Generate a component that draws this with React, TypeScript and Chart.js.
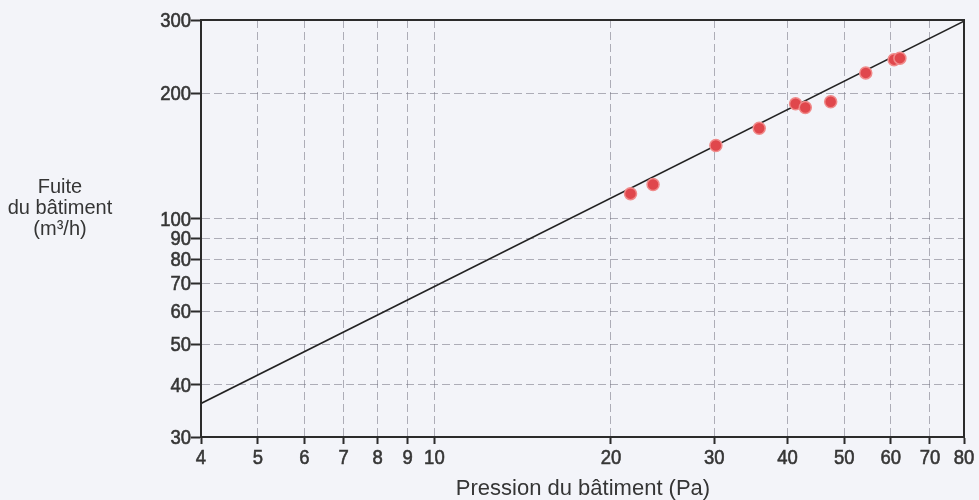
import React, { useEffect, useRef } from "react";
import { Chart, registerables } from "chart.js";

Chart.register(...registerables);

const xTicks = [4, 5, 6, 7, 8, 9, 10, 20, 30, 40, 50, 60, 70, 80];
const yTicks = [30, 40, 50, 60, 70, 80, 90, 100, 200, 300];
const pressure = [21.6, 23.6, 30.2, 35.8, 41.3, 42.9, 47.4, 54.4, 60.8, 62.2];
const leakage = [115, 121, 150, 165, 189, 185, 191, 224, 241, 243];
const fitPressure = [4, 80];
const fitLeakage = [36.1, 298];
const xTitle = "Pression du bâtiment (Pa)";
const yTitleLines = ["Fuite", "du bâtiment", "(m³/h)"];

const FONT = "'Liberation Sans', Arial, sans-serif";
const BG = "#f3f4f9";
const INK = "#2b2b2b";
const TEXT = "#353535";
const GRID = "rgba(115,115,130,0.55)";

function squeezed(ctx: any, text: string, x: number, y: number, sx: number) {
  ctx.save();
  ctx.translate(x, y);
  ctx.scale(sx, 1);
  ctx.strokeText(text, 0, 0);
  ctx.fillText(text, 0, 0);
  ctx.restore();
}

const decorPlugin = {
  id: "decor",
  beforeDraw(chart: any) {
    const { ctx, width, height } = chart;
    ctx.save();
    ctx.fillStyle = BG;
    ctx.fillRect(0, 0, width, height);
    ctx.restore();
  },
  afterDraw(chart: any) {
    const { ctx, chartArea, scales } = chart;
    ctx.save();
    ctx.strokeStyle = INK;
    ctx.lineWidth = 2;
    ctx.strokeRect(chartArea.left, chartArea.top, chartArea.right - chartArea.left, chartArea.bottom - chartArea.top);

    ctx.fillStyle = TEXT;
    ctx.strokeStyle = TEXT;
    ctx.lineWidth = 0.6;
    // tick labels
    ctx.font = `21px ${FONT}`;
    ctx.textBaseline = "middle";
    ctx.textAlign = "right";
    yTicks.forEach((v) => {
      const py = scales.y.getPixelForValue(v);
      squeezed(ctx, String(v), chartArea.left - 10, py + 1, 0.88);
    });
    ctx.textAlign = "center";
    xTicks.forEach((v) => {
      const px = scales.x.getPixelForValue(v);
      squeezed(ctx, String(v), px, chartArea.bottom + 21, 0.88);
    });

    // titles
    ctx.textBaseline = "alphabetic";
    ctx.textAlign = "center";
    ctx.font = `22px ${FONT}`;
    ctx.fillText(xTitle, 583, 495);
    ctx.font = `20px ${FONT}`;
    const baselines = [193, 214, 235];
    yTitleLines.forEach((t, i) => ctx.fillText(t, 60, baselines[i]));
    ctx.restore();
  },
};

export default function App() {
  const ref = useRef<HTMLCanvasElement | null>(null);
  useEffect(() => {
    if (!ref.current) return;
    const chart = new Chart(ref.current, {
      type: "scatter",
      data: {
        datasets: [
          {
            label: "fit",
            data: fitPressure.map((x, i) => ({ x, y: fitLeakage[i] })),
            showLine: true,
            borderColor: "#222",
            borderWidth: 1.6,
            pointRadius: 0,
            order: 2,
          },
          {
            label: "mesures",
            data: pressure.map((x, i) => ({ x, y: leakage[i] })),
            backgroundColor: "#e0474c",
            borderColor: "#f08a8a",
            borderWidth: 1.5,
            pointRadius: 6,
            order: 1,
          },
        ],
      },
      options: {
        animation: false,
        responsive: true,
        maintainAspectRatio: false,
        layout: { padding: { left: 0, top: 20, right: 15, bottom: 0 } },
        plugins: { legend: { display: false }, tooltip: { enabled: false } },
        scales: {
          x: {
            type: "logarithmic",
            min: 4,
            max: 80,
            afterBuildTicks: (s: any) => {
              s.ticks = xTicks.map((v) => ({ value: v }));
            },
            afterFit: (s: any) => {
              s.height = 63;
            },
            ticks: { display: false, autoSkip: false },
            grid: {
              color: GRID,
              lineWidth: 1,
              tickColor: INK,
              tickLength: 7,
              tickWidth: 2,
              tickBorderDash: [],
            },
            border: { display: true, color: INK, width: 2, dash: [8, 4] },
          },
          y: {
            type: "logarithmic",
            min: 30,
            max: 300,
            afterBuildTicks: (s: any) => {
              s.ticks = yTicks.map((v) => ({ value: v }));
            },
            afterFit: (s: any) => {
              s.width = 201;
            },
            ticks: { display: false, autoSkip: false },
            grid: {
              color: GRID,
              lineWidth: 1,
              tickColor: INK,
              tickLength: 10,
              tickWidth: 2,
              tickBorderDash: [],
            },
            border: { display: true, color: INK, width: 2, dash: [8, 4] },
          },
        },
      },
      plugins: [decorPlugin],
    });
    return () => chart.destroy();
  }, []);
  return (
    <div style={{ position: "absolute", left: 0, top: 0, width: 979, height: 500, background: BG }}>
      <canvas ref={ref} />
    </div>
  );
}
